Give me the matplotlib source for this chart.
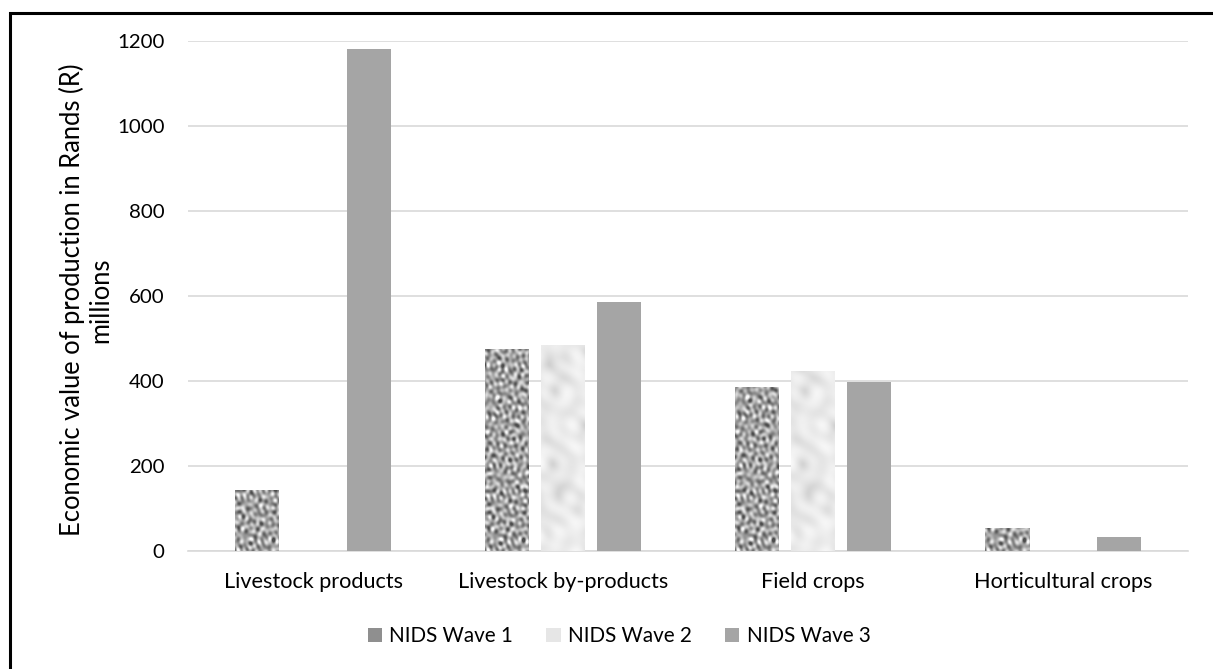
import numpy as np
import matplotlib
matplotlib.use("Agg")
import matplotlib.pyplot as plt
from matplotlib.patches import Rectangle, Patch

categories = ["Livestock products", "Livestock by-products", "Field crops", "Horticultural crops"]
series_names = ["NIDS Wave 1", "NIDS Wave 2", "NIDS Wave 3"]
wave1 = [144, 475, 387, 54]
wave2 = [0, 485, 423, 0]
wave3 = [1180, 586, 397, 33]

plt.rcParams['font.family'] = ['Lato', 'DejaVu Sans']

W, H = 1213, 669


def texture(n, m, ncomp, fmin, fmax, seed_phase):
    # deterministic noise-like texture: many sine waves in different directions
    yy, xx = np.mgrid[0:n, 0:m].astype(float)
    z = np.zeros((n, m))
    for k in range(ncomp):
        ang = k * 2.39996 + seed_phase
        f = fmin + (fmax - fmin) * ((k * 0.618034 + seed_phase) % 1.0)
        z += np.sin(f * (np.cos(ang) * xx + np.sin(ang) * yy) + k * 1.731)
    z = (z - z.min()) / (z.max() - z.min())
    return z


grain = texture(510, 44, 24, 0.5, 1.2, 0.3)
grain = 0.3 + 0.67 * np.clip((grain - 0.18) / 0.64, 0, 1)
marble = texture(510, 44, 12, 0.05, 0.4, 1.1)
marble = 0.80 + 0.18 * marble ** 0.6

fig = plt.figure(figsize=(W / 100, H / 100), dpi=100)
ax = fig.add_axes([188 / W, 1 - 551 / H, (1188 - 188) / W, (551 - 41) / H])
renderer = fig.canvas.get_renderer()


def fit(text, target_px, size=12):
    t = fig.text(0, 0, text, fontsize=size)
    w = t.get_window_extent(renderer).width
    t.remove()
    return size * target_px / w


x = np.arange(len(categories))
w = 0.176
step = 0.224
for i, (vals, tex) in enumerate([(wave1, grain), (wave2, marble), (wave3, None)]):
    pos = x + (i - 1) * step
    bars = ax.bar(pos, vals, w, color="#a5a5a5" if tex is None else "none",
                  edgecolor="none", zorder=3)
    if tex is not None:
        for b in bars:
            if b.get_height() <= 0:
                continue
            im = ax.imshow(tex, cmap="gray", vmin=0, vmax=1, aspect="auto",
                           extent=[b.get_x(), b.get_x() + b.get_width(), 0, 1200],
                           interpolation="bilinear", zorder=3)
            im.set_clip_path(b)

xsize = fit("Livestock products", 179)
ysize = fit("1200", 47)
labsize = fit("Economic value of production in Rands (R)", 472)
legsize = fit("NIDS Wave 1", 124)

ax.set_xlim(-0.5, 3.5)
ax.set_ylim(0, 1200)
ax.set_yticks(range(0, 1201, 200))
ax.set_xticks(x)
ax.set_xticklabels(categories, fontsize=xsize)
ax.tick_params(axis="y", length=0, labelsize=ysize, pad=17)
ax.tick_params(axis="x", length=0, pad=15)
ax.grid(axis="y", color="#d9d9d9", linewidth=1.2, zorder=0)
for s in ["top", "right", "left"]:
    ax.spines[s].set_visible(False)
ax.spines["bottom"].set_color("#d9d9d9")
ax.spines["bottom"].set_linewidth(1.2)

fig.text(86 / W, 1 - 300 / H, "Economic value of production in Rands (R)\nmillions",
         rotation=90, ha="center", va="center", multialignment="center",
         fontsize=labsize, linespacing=1.2)

handles = [Patch(facecolor="#8f8f8f"), Patch(facecolor="#e6e6e6"), Patch(facecolor="#a5a5a5")]
fig.legend(handles, series_names, loc="center", bbox_to_anchor=(619 / W, 1 - 636 / H), ncol=3,
           frameon=False, fontsize=legsize, handlelength=0.7, handleheight=0.7,
           columnspacing=1.6, handletextpad=0.35)

# outer frame
fig.add_artist(Rectangle((9.5 / W, -0.1), 1.2, 1 - 12.5 / H + 0.1, transform=fig.transFigure,
                         fill=False, edgecolor="black", linewidth=2.2))

fig.savefig("out.png", dpi=100)
